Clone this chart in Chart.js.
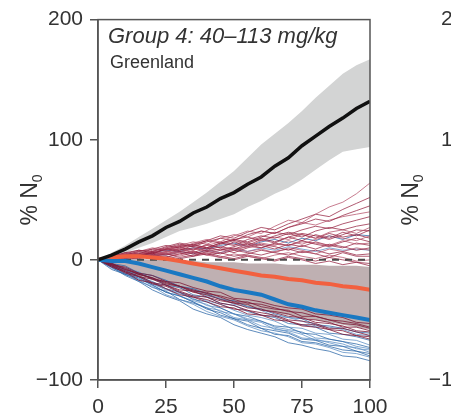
<!DOCTYPE html>
<html>
<head>
<meta charset="utf-8">
<script src="https://cdn.jsdelivr.net/npm/chart.js@4/dist/chart.umd.min.js"></script>
<style>
  html, body { margin: 0; padding: 0; background: #fff; }
  #wrap { width: 451px; height: 419px; }
</style>
</head>
<body>
<div id="wrap"><canvas id="myChart" width="451" height="419"></canvas></div>
<script>
// x positions (generations)
const xs = [0,5,10,15,20,25,30,35,40,45,50,55,60,65,70,75,80,85,90,95,100];

// black mean line + grey band
const blackMean = [0,4,9,15,20,27,32,39,44,51,56,63,69,78,85,95,103,111,118,126,132];
const blackHigh = [0,6,12,19,26,33,40,48,56,65,74,85,96,105,114,124,135,145,155,162,167];
const blackLow  = [0,3,6,10,14,19,24,27,30,34,38,44,49,55,60,67,75,83,90,92,94];

// central pinkish grey band
const midUpper = [0,1,1,1,0,0,-1,-1,-2,-2,-2,-3,-3,-3,-4,-4,-4,-5,-5,-5,-6];
const midLower = [0,-5,-9,-13,-17,-20,-24,-27,-30,-33,-36,-39,-41,-44,-46,-48,-50,-52,-54,-56,-58];

// orange and blue means
const orangeMean = [0,2,3,3,2,1,-1,-3,-5,-7,-9,-11,-13,-14,-16,-17,-19,-20,-22,-23,-25];
const blueMean   = [0,-1,-1,-3,-6,-9,-12,-15,-18,-22,-25,-27,-29,-33,-37,-39,-42,-44,-46,-48,-50];

// zero reference
const zeroLine = [0,0,0,0,0,0,0,0,0,0,0,0,0,0,0,0,0,0,0,0,0];

// thin red runs (upper group)
const redWalks = [
    [0,3,5,4,8,10,9,14,17,15,20,24,22,28,33,31,38,44,48,55,64],
    [0,2,6,8,7,11,14,12,16,20,18,23,27,25,30,34,38,36,42,47,52],
    [0,2,5,4,7,10,13,11,15,18,16,21,24,22,27,30,34,32,37,41,45],
    [0,4,3,7,10,8,12,15,13,18,21,19,24,22,27,31,29,33,36,38,40],
    [0,1,4,6,5,9,8,12,10,14,17,15,19,23,21,25,28,26,30,33,36],
    [0,3,6,5,9,12,10,13,16,14,12,17,20,18,22,19,24,27,25,28,30],
    [0,2,1,5,7,6,10,8,12,15,13,11,16,19,17,21,18,23,25,22,27],
    [0,3,4,7,5,9,11,8,13,10,15,12,17,14,19,16,21,18,23,20,25],
    [0,3,5,8,6,9,12,11,9,13,16,14,18,15,19,22,20,17,21,25,24],
    [0,1,3,2,5,7,6,9,12,10,8,11,14,12,16,13,17,20,18,16,20],
    [0,2,4,7,9,8,11,13,10,14,17,19,16,20,23,21,18,22,19,21,18],
    [0,3,2,4,6,9,7,5,8,11,9,13,10,14,12,16,13,11,15,18,15],
    [0,1,2,4,6,5,7,9,8,6,9,11,10,13,12,15,14,12,16,13,14],
    [0,1,3,5,4,7,9,6,10,8,11,14,12,9,13,11,15,12,10,14,12],
    [0,2,4,3,6,5,8,10,7,9,6,10,13,11,8,12,9,13,11,8,10],
    [0,1,2,4,3,6,4,7,5,8,10,7,9,6,10,8,5,9,7,10,8],
    [0,2,1,3,5,4,6,3,7,5,8,6,4,7,9,6,8,5,7,4,5],
    [0,1,3,2,4,2,5,7,4,6,3,5,8,6,4,7,5,2,6,3,3],
    [0,2,1,4,3,5,3,6,4,2,5,3,1,4,6,3,1,4,2,-1,0],
    [0,1,2,1,3,5,2,4,6,3,1,4,2,0,3,1,-1,2,0,-2,-3],
    [0,1,0,2,4,3,1,3,5,2,0,3,1,-1,2,0,-3,-1,-4,-2,-5]
];

// dark red runs (lower group)
const darkRedWalks = [
    [0,-4,-6,-11,-13,-18,-19,-23,-26,-27,-32,-33,-35,-38,-40,-41,-45,-46,-48,-52,-53],
    [0,-3,-8,-11,-16,-18,-22,-26,-27,-31,-35,-35,-39,-41,-42,-47,-47,-50,-53,-54,-57],
    [0,-5,-9,-14,-16,-21,-25,-26,-31,-34,-36,-40,-41,-44,-47,-48,-52,-53,-55,-59,-60],
    [0,-4,-10,-13,-19,-21,-26,-30,-31,-36,-38,-42,-44,-46,-50,-51,-53,-57,-57,-60,-63],
    [0,-6,-10,-17,-19,-24,-29,-31,-35,-39,-40,-45,-46,-50,-51,-55,-56,-58,-62,-63,-66],
    [0,-5,-11,-14,-20,-22,-27,-31,-33,-37,-41,-42,-46,-47,-51,-54,-54,-58,-59,-63,-64],
    [0,-3,-7,-12,-15,-20,-22,-27,-29,-33,-36,-37,-42,-43,-45,-49,-50,-52,-56,-56,-59],
    [0,-4,-8,-12,-15,-19,-22,-25,-28,-30,-33,-36,-37,-40,-43,-44,-47,-50,-51,-53,-56]
];

// thin blue runs
const blueWalks = [
    [0,-6,-13,-18,-25,-30,-34,-41,-45,-48,-54,-58,-61,-64,-69,-71,-74,-76,-80,-81,-84],
    [0,-7,-11,-18,-22,-29,-33,-37,-43,-47,-50,-55,-59,-61,-64,-69,-70,-73,-77,-78,-81],
    [0,-5,-12,-15,-21,-27,-30,-35,-41,-44,-49,-51,-57,-59,-61,-66,-67,-71,-72,-76,-78],
    [0,-6,-9,-16,-20,-24,-30,-34,-37,-43,-45,-50,-52,-58,-59,-62,-67,-68,-70,-74,-75],
    [0,-4,-10,-14,-18,-24,-27,-33,-35,-40,-45,-47,-51,-55,-56,-61,-62,-66,-68,-70,-73],
    [0,-5,-8,-14,-19,-21,-27,-30,-34,-37,-42,-46,-48,-51,-56,-57,-61,-62,-66,-67,-71],
    [0,-3,-9,-12,-15,-21,-23,-29,-31,-36,-38,-43,-46,-48,-53,-54,-56,-61,-62,-64,-67],
    [0,-4,-7,-10,-16,-18,-22,-25,-30,-32,-37,-39,-42,-47,-48,-51,-55,-56,-58,-62,-63],
    [0,-8,-12,-17,-23,-26,-33,-36,-40,-46,-49,-54,-57,-62,-63,-68,-69,-72,-75,-76,-80],
    [0,-5,-11,-14,-20,-25,-28,-32,-38,-40,-45,-49,-51,-56,-58,-60,-65,-66,-68,-72,-74],
    [0,-3,-5,-11,-13,-17,-22,-24,-28,-33,-34,-39,-41,-45,-48,-49,-54,-55,-57,-60,-61],
    [0,-6,-12,-16,-21,-27,-30,-35,-40,-42,-48,-50,-55,-57,-60,-65,-66,-69,-72,-73,-77],
    [0,2,4,3,6,8,7,10,9,12,14,11,15,17,14,18,16,20,17,21,20],
    [0,1,3,2,5,4,7,5,8,6,9,7,10,8,11,9,7,10,8,9,8]
];

// tick labels
const xTicks = [0, 25, 50, 75, 100];
const yTicks = [-100, 0, 100, 200];

const FONT = "'Liberation Sans', Arial, sans-serif";

function toPts(ys) {
    return xs.map((x, i) => ({ x: x, y: ys[i] }));
}

function thinLine(ys, color, order) {
    return {
        data: toPts(ys),
        borderColor: color,
        borderWidth: 1,
        pointRadius: 0,
        tension: 0,
        fill: false,
        order: order
    };
}

const datasets = [];
// 0,1: black band
datasets.push({ data: toPts(blackHigh), borderWidth: 0, borderColor: 'rgba(0,0,0,0)', pointRadius: 0, fill: false, order: 50 });
datasets.push({ data: toPts(blackLow), borderWidth: 0, borderColor: 'rgba(0,0,0,0)', pointRadius: 0, fill: '-1', backgroundColor: '#d3d4d4', order: 50 });
// 2,3: central band
datasets.push({ data: toPts(midUpper), borderWidth: 0, borderColor: 'rgba(0,0,0,0)', pointRadius: 0, fill: false, order: 60 });
datasets.push({ data: toPts(midLower), borderWidth: 0, borderColor: 'rgba(0,0,0,0)', pointRadius: 0, fill: '-1', backgroundColor: '#bfb0b2', order: 60 });

redWalks.forEach((w, i) => {
    datasets.push(thinLine(w, i % 3 === 0 ? 'rgba(180,80,105,0.75)' : 'rgba(150,35,65,0.75)', 20));
});
darkRedWalks.forEach((w) => {
    datasets.push(thinLine(w, 'rgba(125,25,55,0.8)', 18));
});
blueWalks.forEach((w, i) => {
    datasets.push(thinLine(w, i % 2 === 0 ? 'rgba(40,100,165,0.75)' : 'rgba(90,140,195,0.75)', i >= 12 ? 22 : 19));
});

datasets.push({ data: toPts(zeroLine), borderColor: '#4a4a4a', borderWidth: 2, borderDash: [7, 6], pointRadius: 0, fill: false, order: 4 });
datasets.push({ data: toPts(orangeMean), borderColor: '#f2603f', borderWidth: 4, pointRadius: 0, fill: false, order: 3 });
datasets.push({ data: toPts(blueMean), borderColor: '#1a78c2', borderWidth: 4, pointRadius: 0, fill: false, order: 2 });
datasets.push({ data: toPts(blackMean), borderColor: '#111', borderWidth: 3.5, pointRadius: 0, fill: false, order: 1 });

// frame, labels and neighbouring panel bits
const decorPlugin = {
    id: 'decor',
    afterDraw(chart) {
        const ctx = chart.ctx;
        const a = chart.chartArea;
        ctx.save();
        ctx.strokeStyle = '#555';
        ctx.lineWidth = 1.5;
        ctx.strokeRect(a.left, a.top, a.right - a.left, a.bottom - a.top);

        ctx.fillStyle = '#333';
        ctx.textBaseline = 'alphabetic';
        ctx.textAlign = 'left';
        ctx.font = 'italic 22px ' + FONT;
        ctx.fillText('Group 4: 40\u2013113 mg/kg', 108, 43);
        ctx.font = '18px ' + FONT;
        ctx.fillText('Greenland', 110, 68);

        // y title "% N0"
        drawYTitle(ctx, 31, 200);
        drawYTitle(ctx, 412, 200);

        // cut-off tick labels of the next panel
        ctx.font = '21px ' + FONT;
        ctx.textAlign = 'right';
        ctx.textBaseline = 'middle';
        ctx.fillText('200', 476, 19);
        ctx.fillText('100', 476, 140);
        ctx.fillText('\u2212100', 476, 380);
        ctx.restore();
    }
};

function drawYTitle(ctx, cx, cy) {
    ctx.save();
    ctx.translate(cx, cy);
    ctx.rotate(-Math.PI / 2);
    ctx.fillStyle = '#333';
    ctx.textBaseline = 'middle';
    ctx.textAlign = 'left';
    ctx.font = '23px ' + FONT;
    const main = '% N';
    const w = ctx.measureText(main).width;
    ctx.font = '14px ' + FONT;
    const sw = ctx.measureText('0').width;
    const start = -(w + sw) / 2;
    ctx.font = '23px ' + FONT;
    ctx.fillText(main, start, 0);
    ctx.font = '14px ' + FONT;
    ctx.fillText('0', start + w, 7);
    ctx.restore();
}

const ctx = document.getElementById('myChart').getContext('2d');
const chart = new Chart(ctx, {
    type: 'line',
    data: { datasets: datasets },
    options: {
        responsive: false,
        animation: false,
        layout: { padding: { top: 18, right: 81, left: 0, bottom: 0 } },
        plugins: {
            legend: { display: false },
            tooltip: { enabled: false }
        },
        scales: {
            x: {
                type: 'linear',
                min: 0,
                max: 100,
                afterFit: (s) => { s.height = 39; },
                afterBuildTicks: (s) => { s.ticks = xTicks.map(v => ({ value: v })); },
                grid: { display: true, drawOnChartArea: false, drawTicks: true, tickLength: 8, color: '#555', lineWidth: 1.5 },
                border: { display: true, color: '#555', width: 1.5 },
                ticks: { color: '#333', font: { family: FONT, size: 21 }, padding: 7, maxRotation: 0 }
            },
            y: {
                min: -100,
                max: 200,
                afterFit: (s) => { s.width = 98; },
                afterBuildTicks: (s) => { s.ticks = yTicks.map(v => ({ value: v })); },
                grid: { display: true, drawOnChartArea: false, drawTicks: true, tickLength: 8, color: '#555', lineWidth: 1.5 },
                border: { display: true, color: '#555', width: 1.5 },
                ticks: {
                    color: '#333',
                    font: { family: FONT, size: 21 },
                    padding: 7,
                    callback: (v) => String(v).replace('-', '\u2212')
                }
            }
        }
    },
    plugins: [decorPlugin]
});
</script>
</body>
</html>
